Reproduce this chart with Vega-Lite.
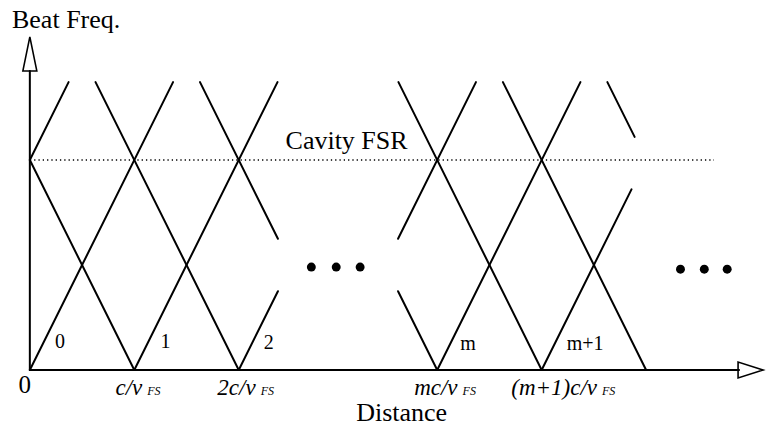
{
  "$schema": "https://vega.github.io/schema/vega-lite/v6.json",
  "width": 767,
  "height": 442,
  "autosize": {"type": "fit", "contains": "padding"},
  "padding": 0,
  "background": "white",
  "config": {"view": {"stroke": null}},
  "datasets": {
    "segs": [
      {"x": 0, "y": 1, "x2": 0.371, "y2": 1.371},
      {"x": 0, "y": 0, "x2": 1.371, "y2": 1.371},
      {"x": 0, "y": 1, "x2": 1, "y2": 0},
      {"x": 0.629, "y": 1.371, "x2": 2, "y2": 0},
      {"x": 1, "y": 0, "x2": 2.371, "y2": 1.371},
      {"x": 1.629, "y": 1.371, "x2": 2.375, "y2": 0.625},
      {"x": 2, "y": 0, "x2": 2.375, "y2": 0.375},
      {"x": 3.525, "y": 0.375, "x2": 3.9, "y2": 0},
      {"x": 3.525, "y": 0.625, "x2": 4.271, "y2": 1.371},
      {"x": 3.529, "y": 1.371, "x2": 4.9, "y2": 0},
      {"x": 3.9, "y": 0, "x2": 5.271, "y2": 1.371},
      {"x": 4.529, "y": 1.371, "x2": 5.9, "y2": 0},
      {"x": 4.9, "y": 0, "x2": 5.76, "y2": 0.86},
      {"x": 5.529, "y": 1.371, "x2": 5.79, "y2": 1.11},
      {"x": 0, "y": 0, "x2": 0, "y2": 1.424},
      {"x": 0, "y": 0, "x2": 6.79, "y2": 0}
    ],
    "fsr": [{"x": 0, "y": 1, "x2": 6.55, "y2": 1}],
    "yarrow": [{"x": 0, "y": 1.505}],
    "xarrow": [{"x": 6.9, "y": 0}],
    "titles": [
      {"x": -0.171, "y": 1.629, "t": "Beat Freq."},
      {"x": 2.448, "y": 1.052, "t": "Cavity FSR"},
      {"x": 3.124, "y": -0.243, "t": "Distance"}
    ],
    "zero": [{"x": -0.048, "y": -0.11, "t": "0"}],
    "ticks": [
      {"x": 1.076, "y": -0.119, "t": "c/ν", "s": "FS"},
      {"x": 2.162, "y": -0.119, "t": "2c/ν", "s": "FS"},
      {"x": 4.095, "y": -0.119, "t": "mc/ν", "s": "FS"},
      {"x": 5.43, "y": -0.119, "t": "(m+1)c/ν", "s": "FS"}
    ],
    "modes": [
      {"x": 0.24, "y": 0.105, "t": "0"},
      {"x": 1.25, "y": 0.105, "t": "1"},
      {"x": 2.24, "y": 0.1, "t": "2"},
      {"x": 4.12, "y": 0.095, "t": "m"},
      {"x": 5.14, "y": 0.095, "t": "m+1"}
    ],
    "dots": [
      {"x": 2.695, "y": 0.49},
      {"x": 2.933, "y": 0.49},
      {"x": 3.162, "y": 0.49},
      {"x": 6.229, "y": 0.48},
      {"x": 6.457, "y": 0.48},
      {"x": 6.676, "y": 0.48}
    ]
  },
  "encoding": {
    "x": {"field": "x", "type": "quantitative", "axis": null, "scale": {"domain": [-0.2857, 7.019], "nice": false, "zero": false}},
    "y": {"field": "y", "type": "quantitative", "axis": null, "scale": {"domain": [-0.3429, 1.7619], "nice": false, "zero": false}}
  },
  "layer": [
    {
      "data": {"name": "segs"},
      "mark": {"type": "rule", "stroke": "black", "strokeWidth": 2, "strokeCap": "round"},
      "encoding": {"x2": {"field": "x2"}, "y2": {"field": "y2"}}
    },
    {
      "data": {"name": "fsr"},
      "mark": {"type": "rule", "stroke": "black", "strokeWidth": 1.3, "strokeDash": [1.3, 3]},
      "encoding": {"x2": {"field": "x2"}, "y2": {"field": "y2"}}
    },
    {
      "data": {"name": "yarrow"},
      "mark": {"type": "point", "shape": "M0,-1L0.41,1L-0.41,1Z", "size": 1156, "filled": false, "stroke": "black", "strokeWidth": 1.6, "opacity": 1}
    },
    {
      "data": {"name": "xarrow"},
      "mark": {"type": "point", "shape": "M1,0L-1,-0.64L-1,0.64Z", "size": 625, "filled": false, "stroke": "black", "strokeWidth": 1.6, "opacity": 1}
    },
    {
      "data": {"name": "dots"},
      "mark": {"type": "circle", "size": 80, "color": "black", "opacity": 1}
    },
    {
      "data": {"name": "titles"},
      "mark": {"type": "text", "font": "Liberation Serif", "fontSize": 26, "align": "left", "baseline": "alphabetic", "color": "black"},
      "encoding": {"text": {"field": "t"}}
    },
    {
      "data": {"name": "zero"},
      "mark": {"type": "text", "font": "Liberation Serif", "fontSize": 25, "align": "center", "baseline": "alphabetic", "color": "black"},
      "encoding": {"text": {"field": "t"}}
    },
    {
      "data": {"name": "ticks"},
      "mark": {"type": "text", "font": "Liberation Serif", "fontStyle": "italic", "fontSize": 23, "align": "right", "baseline": "alphabetic", "color": "black"},
      "encoding": {"text": {"field": "t"}}
    },
    {
      "data": {"name": "ticks"},
      "mark": {"type": "text", "font": "Liberation Serif", "fontStyle": "italic", "fontSize": 12, "align": "left", "baseline": "alphabetic", "dx": 5, "color": "black"},
      "encoding": {"text": {"field": "s"}}
    },
    {
      "data": {"name": "modes"},
      "mark": {"type": "text", "font": "Liberation Serif", "fontSize": 20, "align": "left", "baseline": "alphabetic", "color": "black"},
      "encoding": {"text": {"field": "t"}}
    }
  ]
}
